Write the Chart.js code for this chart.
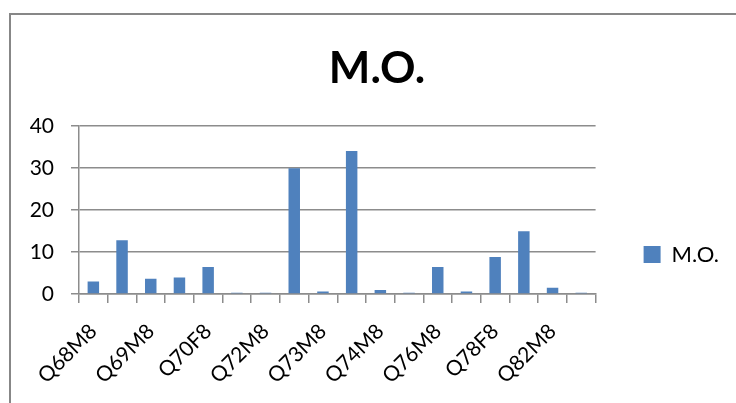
<!DOCTYPE html>
<html lang="pt-br">
<head>
    <meta charset="UTF-8">
    <title>M.O.</title>
    <script src="https://cdn.jsdelivr.net/npm/chart.js"></script>
    <style>
        body { margin: 0; background: #fff; }
        .moldura {
            position: absolute; left: 9px; top: 13px; width: 740px; height: 400px;
            border-left: 2px solid #878787; border-top: 2px solid #878787;
        }
        .grafico { position: absolute; left: 0; top: 0; width: 736px; height: 403px; }
    </style>
</head>
<body>
    <div class="moldura"></div>
    <div class="grafico">
        <canvas id="myChart" width="736" height="403"></canvas>
    </div>
<script>
    // amostras (so uma a cada duas aparece no eixo)
    const amostras = [
        'Q68M8', 'Q69F8', 'Q69M8', 'Q70F7', 'Q70F8', 'Q71M8',
        'Q72M8', 'Q72M9', 'Q73M8', 'Q73M9', 'Q74M8', 'Q75F8',
        'Q76M8', 'Q77M8', 'Q78F8', 'Q80M8', 'Q82M8', 'Q83M8',
    ];

    // valores de M.O.
    const valoresMO = [3.0, 12.8, 3.6, 3.9, 6.4, 0.3, 0.3, 29.9, 0.6, 34.0, 0.95, 0.3, 6.4, 0.6, 8.8, 14.9, 1.5, 0.3];

    const ticksY = [0, 10, 20, 30, 40];

    const data = {
        labels: amostras,
        datasets: [{
            label: 'M.O.',
            backgroundColor: '#4f81bd',
            borderColor: '#4f81bd',
            data: valoresMO,
            barPercentage: 0.4,
            categoryPercentage: 1,
        }]
    };

    const config = {
        type: 'bar',
        data: data,
        options: {
            responsive: false,
            animation: false,
            events: [],
            layout: {
                padding: { left: 25, right: 7, top: 22, bottom: 0 }
            },
            plugins: {
                title: {
                    display: true,
                    text: 'M.O.',
                    color: '#000',
                    font: { family: 'Lato', size: 44, weight: 'bold', lineHeight: 1.2 },
                    padding: { top: 20, bottom: 31 }
                },
                legend: {
                    position: 'right',
                    title: {
                        display: true,
                        text: '',
                        font: { size: 10, lineHeight: 1.2 },
                        padding: { top: 72, bottom: 0 }
                    },
                    labels: {
                        color: '#000',
                        boxWidth: 17,
                        boxHeight: 17,
                        padding: 48,
                        font: { family: 'Lato', size: 22 }
                    }
                },
                tooltip: { enabled: false }
            },
            scales: {
                x: {
                    grid: {
                        drawOnChartArea: false,
                        color: '#8c8c8c',
                        tickLength: 9,
                        lineWidth: 1.5
                    },
                    border: { color: '#8c8c8c', width: 1.5 },
                    ticks: {
                        color: '#000',
                        autoSkip: false,
                        maxRotation: 45,
                        minRotation: 45,
                        padding: 16,
                        font: { family: 'Lato', size: 21 },
                        callback: function (v, i) { return i % 2 === 0 ? amostras[i] : ''; }
                    },
                    afterFit: function (s) { s.height = 109; }
                },
                y: {
                    min: 0,
                    max: 40,
                    grid: {
                        color: '#8c8c8c',
                        tickLength: 8,
                        lineWidth: 1.5
                    },
                    border: { color: '#8c8c8c', width: 1.5 },
                    ticks: {
                        color: '#000',
                        stepSize: 10,
                        padding: 17,
                        font: { family: 'Lato', size: 21 }
                    },
                    afterBuildTicks: function (s) { s.ticks = ticksY.map(v => ({ value: v })); },
                    afterFit: function (s) { s.width = 54; }
                }
            }
        }
    };

    const myChart = new Chart(
        document.getElementById('myChart'),
        config
    );
</script>
</body>
</html>
